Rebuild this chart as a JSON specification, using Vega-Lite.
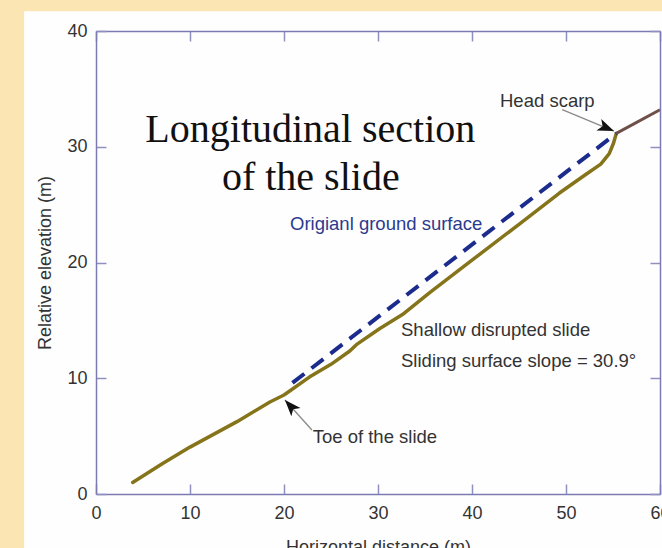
{
  "$schema": "https://vega.github.io/schema/vega-lite/v6.json",
  "width": 564,
  "height": 463,
  "autosize": "none",
  "padding": {"left": 96, "top": 31, "right": 2, "bottom": 54},
  "background": "#fbe6b3",
  "config": {"view": {"stroke": null}},
  "datasets": {
    "panel": [{"x1": -7.65, "x2": 64, "y1": -6, "y2": 41.7}],
    "surface": [
      {"d": 3.9, "e": 1.0}, {"d": 7, "e": 2.6}, {"d": 10, "e": 4.05}, {"d": 15, "e": 6.25},
      {"d": 18.5, "e": 7.95}, {"d": 20, "e": 8.55}, {"d": 22.7, "e": 10.1}, {"d": 25, "e": 11.2},
      {"d": 27, "e": 12.35}, {"d": 27.7, "e": 12.9}, {"d": 30.2, "e": 14.3}, {"d": 32.6, "e": 15.5},
      {"d": 35.5, "e": 17.4}, {"d": 40, "e": 20.2}, {"d": 45, "e": 23.3}, {"d": 49.3, "e": 26.0},
      {"d": 52.1, "e": 27.6}, {"d": 53.7, "e": 28.5}, {"d": 54.6, "e": 29.4}, {"d": 55.05, "e": 30.3},
      {"d": 55.35, "e": 31.15}
    ],
    "ground": [{"d": 20.9, "e": 9.6}, {"d": 55.35, "e": 31.15}],
    "upslope": [{"d": 55.35, "e": 31.15}, {"d": 60, "e": 33.2}],
    "notes": [
      {"x": 42.98, "y": 33.45, "label": "Head scarp"},
      {"x": 32.45, "y": 13.65, "label": "Shallow disrupted slide"},
      {"x": 32.45, "y": 11.0, "label": "Sliding surface slope = 30.9°"},
      {"x": 23.05, "y": 4.4, "label": "Toe of the slide"}
    ],
    "ground_note": [{"x": 20.64, "y": 22.8, "label": "Origianl ground surface"}],
    "heading": [
      {"x": 22.8, "y": 30.41, "label": "Longitudinal section"},
      {"x": 22.85, "y": 26.26, "label": "of the slide"}
    ],
    "shafts": [
      {"x1": 49.6, "y1": 33.2, "x2": 55.1, "y2": 31.35},
      {"x1": 22.97, "y1": 5.53, "x2": 20.1, "y2": 8.12}
    ],
    "scarp_head": [{"x": 55.1, "y": 31.35}],
    "toe_head": [{"x": 20.1, "y": 8.12}]
  },
  "resolve": {"axis": {"x": "independent", "y": "independent"}},
  "layer": [
    {
      "data": {"name": "panel"},
      "mark": {"type": "rect", "color": "#fefefe", "clip": false},
      "encoding": {
        "x": {"field": "x1", "type": "quantitative", "scale": {"domain": [0, 60], "nice": false, "zero": false}, "axis": null},
        "x2": {"field": "x2"},
        "y": {"field": "y1", "type": "quantitative", "scale": {"domain": [0, 40], "nice": false, "zero": false}, "axis": null},
        "y2": {"field": "y2"}
      }
    },
    {
      "data": {"name": "surface"},
      "mark": {"type": "line", "color": "#85741a", "strokeWidth": 3.5, "strokeCap": "round", "strokeJoin": "round"},
      "encoding": {
        "x": {"field": "d", "type": "quantitative", "scale": {"domain": [0, 60], "nice": false, "zero": false},
          "axis": {"orient": "bottom", "values": [0, 10, 20, 30, 40, 50, 60], "tickSize": -10, "labelPadding": 20,
            "labelFont": "Liberation Sans", "labelFontSize": 18, "labelColor": "#333333", "labelFlush": false, "labelOverlap": false,
            "title": "Horizontal distance (m)", "titleFont": "Liberation Sans", "titleFontSize": 18, "titleFontWeight": "normal", "titleColor": "#333333", "titlePadding": 16,
            "domainColor": "#7b7bb2", "domainWidth": 1.5, "tickColor": "#9090c0", "tickWidth": 1.5, "grid": false, "zindex": 1}},
        "y": {"field": "e", "type": "quantitative", "scale": {"domain": [0, 40], "nice": false, "zero": false},
          "axis": {"orient": "left", "values": [0, 10, 20, 30, 40], "tickSize": -10, "labelPadding": 19,
            "labelFont": "Liberation Sans", "labelFontSize": 18, "labelColor": "#333333", "labelFlush": false, "labelOverlap": false,
            "title": "Relative elevation (m)", "titleFont": "Liberation Sans", "titleFontSize": 18, "titleFontWeight": "normal", "titleColor": "#333333", "titlePadding": 12,
            "domainColor": "#7b7bb2", "domainWidth": 1.5, "tickColor": "#9090c0", "tickWidth": 1.5, "grid": false, "zindex": 1}}
      }
    },
    {
      "data": {"name": "ground"},
      "mark": {"type": "line", "color": "#1c2c8c", "strokeWidth": 4, "strokeDash": [15, 9]},
      "encoding": {
        "x": {"field": "d", "type": "quantitative", "scale": {"domain": [0, 60], "nice": false, "zero": false},
          "axis": {"orient": "top", "values": [0, 10, 20, 30, 40, 50, 60], "tickSize": -10, "labels": false, "title": null,
            "domainColor": "#7b7bb2", "domainWidth": 1.5, "tickColor": "#9090c0", "tickWidth": 1.5, "grid": false, "zindex": 1}},
        "y": {"field": "e", "type": "quantitative", "scale": {"domain": [0, 40], "nice": false, "zero": false},
          "axis": {"orient": "right", "values": [0, 10, 20, 30, 40], "tickSize": -10, "labels": false, "title": null,
            "domainColor": "#7b7bb2", "domainWidth": 1.5, "tickColor": "#9090c0", "tickWidth": 1.5, "grid": false, "zindex": 1}}
      }
    },
    {
      "data": {"name": "upslope"},
      "mark": {"type": "line", "color": "#6e5048", "strokeWidth": 3},
      "encoding": {
        "x": {"field": "d", "type": "quantitative", "axis": null},
        "y": {"field": "e", "type": "quantitative", "axis": null}
      }
    },
    {
      "data": {"name": "shafts"},
      "mark": {"type": "rule", "color": "#8a8a8a", "strokeWidth": 1.3},
      "encoding": {
        "x": {"field": "x1", "type": "quantitative", "axis": null},
        "y": {"field": "y1", "type": "quantitative", "axis": null},
        "x2": {"field": "x2"},
        "y2": {"field": "y2"}
      }
    },
    {
      "data": {"name": "scarp_head"},
      "mark": {"type": "point", "shape": "M0,0 L0.6,1.6 L0,1.2 L-0.6,1.6 Z", "filled": true, "color": "#111111", "opacity": 1, "size": 420, "angle": 113, "strokeWidth": 0},
      "encoding": {
        "x": {"field": "x", "type": "quantitative", "axis": null},
        "y": {"field": "y", "type": "quantitative", "axis": null}
      }
    },
    {
      "data": {"name": "toe_head"},
      "mark": {"type": "point", "shape": "M0,0 L0.6,1.6 L0,1.2 L-0.6,1.6 Z", "filled": true, "color": "#111111", "opacity": 1, "size": 420, "angle": 318, "strokeWidth": 0},
      "encoding": {
        "x": {"field": "x", "type": "quantitative", "axis": null},
        "y": {"field": "y", "type": "quantitative", "axis": null}
      }
    },
    {
      "data": {"name": "notes"},
      "mark": {"type": "text", "align": "left", "baseline": "alphabetic", "font": "Liberation Sans", "fontSize": 18.5, "color": "#333333"},
      "encoding": {
        "x": {"field": "x", "type": "quantitative", "axis": null},
        "y": {"field": "y", "type": "quantitative", "axis": null},
        "text": {"field": "label"}
      }
    },
    {
      "data": {"name": "ground_note"},
      "mark": {"type": "text", "align": "left", "baseline": "alphabetic", "font": "Liberation Sans", "fontSize": 18.5, "color": "#2b3a8e"},
      "encoding": {
        "x": {"field": "x", "type": "quantitative", "axis": null},
        "y": {"field": "y", "type": "quantitative", "axis": null},
        "text": {"field": "label"}
      }
    },
    {
      "data": {"name": "heading"},
      "mark": {"type": "text", "align": "center", "baseline": "alphabetic", "font": "Liberation Serif", "fontSize": 40, "color": "#111111"},
      "encoding": {
        "x": {"field": "x", "type": "quantitative", "axis": null},
        "y": {"field": "y", "type": "quantitative", "axis": null},
        "text": {"field": "label"}
      }
    }
  ]
}
